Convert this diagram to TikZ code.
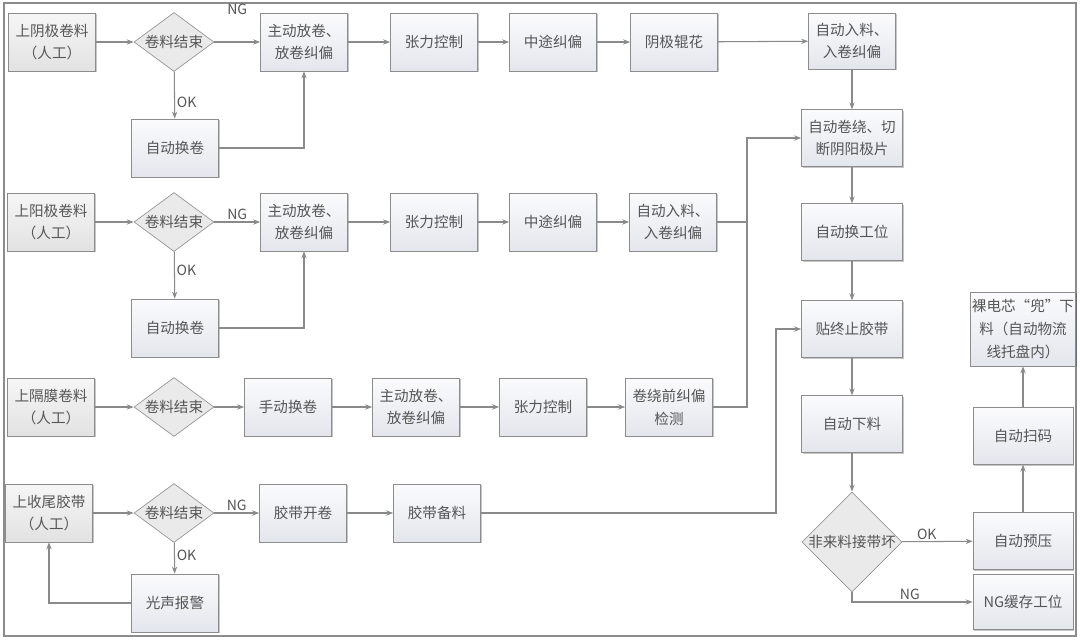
\documentclass[tikz,border=0pt]{standalone}
\usepackage{fontspec}
\setmainfont{Noto Sans CJK SC}
\usetikzlibrary{shapes.geometric,shadows,arrows.meta}
\definecolor{edgegray}{HTML}{8C8C8C}
\definecolor{linegray}{HTML}{8A8A8A}
\definecolor{textgray}{HTML}{555555}
\definecolor{boxtop}{HTML}{FBFBFD}
\definecolor{boxbottom}{HTML}{E3E6EC}
\definecolor{handtop}{HTML}{F6F6F6}
\definecolor{handbottom}{HTML}{E2E2E2}
\definecolor{diafill}{HTML}{EAEAEA}

\begin{document}
\begin{tikzpicture}[x=0.02cm, y=-0.02cm,
        >={Stealth[length=4pt,width=3pt]},
        block/.style={rectangle, draw=edgegray, top color=boxtop, bottom color=boxbottom,
            minimum width=1.74cm, minimum height=1.16cm, align=center, inner sep=1pt,
            text=textgray, font=\fontsize{8.3}{13}\selectfont,
            drop shadow={shadow xshift=0.8pt, shadow yshift=-0.8pt, fill=black, opacity=0.22}},
        manual/.style={block, top color=handtop, bottom color=handbottom},
        wide/.style={block, minimum width=2.02cm, minimum height=1.13cm},
        decision/.style={diamond, draw=edgegray!90, fill=diafill, minimum width=1.6cm,
            minimum height=1.18cm, inner sep=0pt,
            label={[text=textgray, font=\fontsize{8.3}{13}\selectfont]center:#1}},
        lbl/.style={text=textgray, font=\fontsize{8}{10}\selectfont, inner sep=1pt},
        flow/.style={draw=linegray, line width=0.6pt},
        ]
        \useasboundingbox (0,0) rectangle (1080,640);
        \draw[edgegray, line width=1.3pt] (4,3) rectangle (1076,636);

        % cathode line
        \node (cathode) at (52,42) [manual] {上阴极卷料\\（人工）};
        \node (cathodeEnd) at (174,42) [decision={卷料结束}] {};
        \node (cathodeUnwind) at (304,42) [block] {主动放卷、\\放卷纠偏};
        \node (cathodeTension) at (434,42) [block] {张力控制};
        \node (cathodeMid) at (553,42) [block] {中途纠偏};
        \node (cathodeEmboss) at (674,42) [block] {阴极辊花};
        \node (cathodeFeed) at (852,41) [block, minimum height=1.12cm] {自动入料、\\入卷纠偏};
        \node (cathodeSwap) at (175,148) [block] {自动换卷};

        % anode line
        \node (anode) at (51,222) [manual] {上阳极卷料\\（人工）};
        \node (anodeEnd) at (174,222) [decision={卷料结束}] {};
        \node (anodeUnwind) at (304,222) [block] {主动放卷、\\放卷纠偏};
        \node (anodeTension) at (434,222) [block] {张力控制};
        \node (anodeMid) at (553,222) [block] {中途纠偏};
        \node (anodeFeed) at (673,222) [block] {自动入料、\\入卷纠偏};
        \node (anodeSwap) at (175,328) [block] {自动换卷};

        % separator line
        \node (separator) at (51,407) [manual] {上隔膜卷料\\（人工）};
        \node (separatorEnd) at (174,407) [decision={卷料结束}] {};
        \node (separatorSwap) at (288,407) [block] {手动换卷};
        \node (separatorUnwind) at (416,407) [block] {主动放卷、\\放卷纠偏};
        \node (separatorTension) at (543,407) [block] {张力控制};
        \node (separatorCheck) at (669,407) [block] {卷绕前纠偏\\检测};

        % tape line
        \node (tape) at (49,513) [manual] {上收尾胶带\\（人工）};
        \node (tapeEnd) at (174,513) [decision={卷料结束}] {};
        \node (tapeUnwind) at (303,513) [block] {胶带开卷};
        \node (tapePrep) at (437,513) [block] {胶带备料};
        \node (tapeAlarm) at (175,603) [block] {光声报警};

        % winding column
        \node (wind) at (852,138) [wide] {自动卷绕、切\\断阴阳极片};
        \node (station) at (852,232) [wide] {自动换工位};
        \node (stop) at (852,329) [wide] {贴终止胶带};
        \node (unload) at (852,424) [wide] {自动下料};
        \node (check) at (852,542) [diamond, draw=edgegray!90, fill=diafill, minimum width=2cm,
            minimum height=2cm, inner sep=0pt,
            label={[text=textgray, font=\fontsize{8.3}{13}\selectfont]center:非来料接带坏}] {};
        \node (press) at (1023,541) [wide, minimum width=2cm] {自动预压};
        \node (ngbuf) at (1023,602) [wide, minimum width=2cm, minimum height=1.1cm] {NG缓存工位};
        \node (scan) at (1023,436) [wide, minimum width=2cm] {自动扫码};
        \node (out) at (1023,329) [wide, minimum width=2cm, minimum height=1.48cm] {裸电芯“兜”下\\料（自动物流\\线托盘内）};

        \coordinate (windIn) at (747,138);
        \coordinate (stopIn) at (776,329);

        % cathode flow
        \draw[flow, ->] (cathode) -- (cathodeEnd);
        \draw[flow, ->] (cathodeEnd) -- node[lbl, above=0.5cm] {NG} (cathodeUnwind);
        \draw[flow, ->] (cathodeEnd) -- node[lbl, right, pos=0.65] {OK} (cathodeSwap);
        \draw[flow, ->] (cathodeSwap) -| (cathodeUnwind);
        \draw[flow, ->] (cathodeUnwind) -- (cathodeTension);
        \draw[flow, ->] (cathodeTension) -- (cathodeMid);
        \draw[flow, ->] (cathodeMid) -- (cathodeEmboss);
        \draw[flow, ->] (cathodeEmboss) -- (cathodeFeed);
        \draw[flow, ->] (cathodeFeed) -- (wind);

        % anode flow
        \draw[flow, ->] (anode) -- (anodeEnd);
        \draw[flow, ->] (anodeEnd) -- node[lbl, above] {NG} (anodeUnwind);
        \draw[flow, ->] (anodeEnd) -- node[lbl, right, pos=0.4] {OK} (anodeSwap);
        \draw[flow, ->] (anodeSwap) -| (anodeUnwind);
        \draw[flow, ->] (anodeUnwind) -- (anodeTension);
        \draw[flow, ->] (anodeTension) -- (anodeMid);
        \draw[flow, ->] (anodeMid) -- (anodeFeed);
        \draw[flow, ->] (anodeFeed) -| (windIn) -- (wind);

        % separator flow
        \draw[flow, ->] (separator) -- (separatorEnd);
        \draw[flow, ->] (separatorEnd) -- (separatorSwap);
        \draw[flow, ->] (separatorSwap) -- (separatorUnwind);
        \draw[flow, ->] (separatorUnwind) -- (separatorTension);
        \draw[flow, ->] (separatorTension) -- (separatorCheck);
        \draw[flow] (separatorCheck) -| (windIn);

        % tape flow
        \draw[flow, ->] (tape) -- (tapeEnd);
        \draw[flow, ->] (tapeEnd) -- node[lbl, above] {NG} (tapeUnwind);
        \draw[flow, ->] (tapeEnd) -- node[lbl, right, pos=0.4] {OK} (tapeAlarm);
        \draw[flow, ->] (tapeAlarm) -| (tape);
        \draw[flow, ->] (tapeUnwind) -- (tapePrep);
        \draw[flow, ->] (tapePrep) -| (stopIn) -- (stop);

        % winding column
        \draw[flow, ->] (wind) -- (station);
        \draw[flow, ->] (station) -- (stop);
        \draw[flow, ->] (stop) -- (unload);
        \draw[flow, ->] (unload) -- (check);
        \draw[flow, ->] (check) -- node[lbl, above, pos=0.35] {OK} (press);
        \draw[flow, ->] (check.south) |- node[lbl, above, pos=0.74] {NG} (ngbuf);
        \draw[flow, ->] (press) -- (scan);
        \draw[flow, ->] (scan) -- (out);

    \end{tikzpicture}
\end{document}
